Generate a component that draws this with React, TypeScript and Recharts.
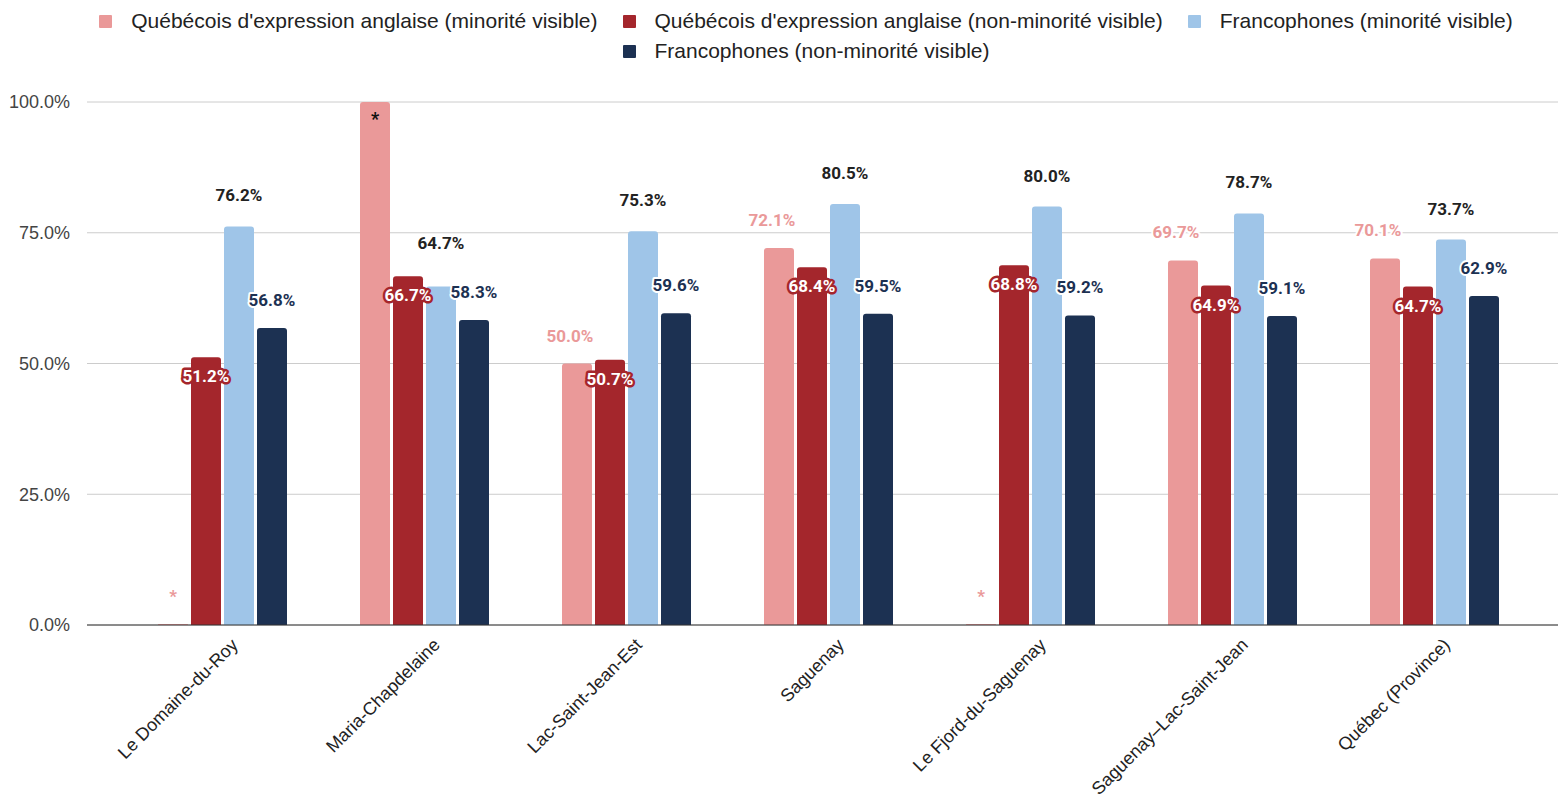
import {
  BarChart,
  Bar,
  XAxis,
  YAxis,
  CartesianGrid,
  Legend,
  LabelList,
} from "recharts";

const regions = [
  "Le Domaine-du-Roy",
  "Maria-Chapdelaine",
  "Lac-Saint-Jean-Est",
  "Saguenay",
  "Le Fjord-du-Saguenay",
  "Saguenay–Lac-Saint-Jean",
  "Québec (Province)",
];

// suppressed / unreliable values are flagged and shown as "*"
const angloMinority = [0, 100, 50.0, 72.1, 0, 69.7, 70.1];
const angloMinorityFlag = [true, true, false, false, true, false, false];
const angloNonMinority = [51.2, 66.7, 50.7, 68.4, 68.8, 64.9, 64.7];
const francoMinority = [76.2, 64.7, 75.3, 80.5, 80.0, 78.7, 73.7];
const francoNonMinority = [56.8, 58.3, 59.6, 59.5, 59.2, 59.1, 62.9];

const yTicks = [0, 25, 50, 75, 100];

const seriesNames = [
  "Québécois d'expression anglaise (minorité visible)",
  "Québécois d'expression anglaise (non-minorité visible)",
  "Francophones (minorité visible)",
  "Francophones (non-minorité visible)",
];
const colors = ["#ea9999", "#a4262c", "#9fc5e8", "#1c3152"];

const fmt = (v: number) => `${v.toFixed(1)}%`;

const data = regions.map((region, i) => ({
  region,
  am: angloMinority[i],
  amLabel: angloMinorityFlag[i] ? "*" : fmt(angloMinority[i]),
  anm: angloNonMinority[i],
  fm: francoMinority[i],
  fnm: francoNonMinority[i],
}));

const labelFont = "Roboto, 'Noto Sans', sans-serif";
const axisFont = "'Liberation Sans', Arial, sans-serif";

const CHART_W = 1558;
const CHART_H = 798;
const PLOT_TOP = 102;
const PLOT_BOTTOM = 625;

function PinkLabel(props: any) {
  const { x, y, width, value } = props;
  const cx = x + width / 2;
  const star = value === "*";
  if (star && y <= PLOT_TOP + 1) {
    return (
      <text x={cx} y={y + 16} textAnchor="middle" dominantBaseline="central" fill="#111" fontSize={18} fontWeight={700} fontFamily={labelFont}>
        *
      </text>
    );
  }
  return (
    <text
      x={star ? cx : cx - 7}
      y={y - 28}
      textAnchor="middle"
      dominantBaseline="central"
      fill="#ea9999"
      stroke="#fff"
      strokeWidth={4}
      paintOrder="stroke"
      strokeLinejoin="round"
      fontSize={17}
      fontWeight={700}
      fontFamily={labelFont}
    >
      {value}
    </text>
  );
}

function RedLabel(props: any) {
  const { x, y, width, value } = props;
  return (
    <text
      x={x + width / 2}
      y={y + 19}
      textAnchor="middle"
      dominantBaseline="central"
      fill="#fff"
      stroke="#a4262c"
      strokeWidth={5}
      paintOrder="stroke"
      strokeLinejoin="round"
      fontSize={17}
      fontWeight={700}
      fontFamily={labelFont}
    >
      {fmt(value)}
    </text>
  );
}

function makeBlueLabel(yPx: (v: number) => number) {
  return function BlueLabel(props: any) {
    const { x, y, width, value, index } = props;
    // push up when it would crowd the navy label next to it
    const navyY = yPx(francoNonMinority[index]) - 28;
    let ly = y - 31;
    if (navyY - ly < 45) ly = navyY - 49;
    return (
      <text
        x={x + width / 2}
        y={ly}
        textAnchor="middle"
        dominantBaseline="central"
        fill="#222"
        fontSize={17}
        fontWeight={700}
        fontFamily={labelFont}
      >
        {fmt(value)}
      </text>
    );
  };
}

function NavyLabel(props: any) {
  const { x, y, width, value } = props;
  return (
    <text
      x={x + width / 2}
      y={y - 28}
      textAnchor="middle"
      dominantBaseline="central"
      fill="#1c3152"
      stroke="#fff"
      strokeWidth={4}
      paintOrder="stroke"
      strokeLinejoin="round"
      fontSize={17}
      fontWeight={700}
      fontFamily={labelFont}
    >
      {fmt(value)}
    </text>
  );
}

function LegendBox() {
  return (
    <div
      style={{
        height: 97,
        width: 1460,
        marginLeft: 76,
        paddingTop: 1,
        boxSizing: "border-box",
        display: "flex",
        flexWrap: "wrap",
        justifyContent: "center",
        alignContent: "flex-start",
        fontFamily: axisFont,
        fontSize: 21,
        color: "#222",
      }}
    >
      {seriesNames.map((name, i) => (
        <div
          key={name}
          style={{
            display: "flex",
            alignItems: "center",
            height: 30,
            margin: "0 12.5px",
            whiteSpace: "nowrap",
          }}
        >
          <span
            style={{
              width: 13,
              height: 13,
              background: colors[i],
              borderRadius: 1,
              marginRight: 19,
              display: "inline-block",
            }}
          />
          <span>{name}</span>
        </div>
      ))}
    </div>
  );
}

export default function App() {
  const yPx = (v: number) =>
    PLOT_BOTTOM - (v / 100) * (PLOT_BOTTOM - PLOT_TOP);
  const BlueLabel = makeBlueLabel(yPx);
  return (
    <div style={{ position: "absolute", left: 0, top: 0, background: "#fff" }}>
      <BarChart
        width={CHART_W}
        height={CHART_H}
        data={data}
        margin={{ top: 5, right: 0, bottom: 0, left: 0 }}
        barGap={3}
        barSize={30}
      >
        <Legend verticalAlign="top" align="left" content={() => <LegendBox />} />
        <CartesianGrid vertical={false} stroke="#cccccc" />
        <XAxis
          dataKey="region"
          interval={0}
          height={173}
          padding={{ left: 34, right: 23 }}
          axisLine={{ stroke: "#333", strokeWidth: 1 }}
          tickLine={false}
          tick={{
            angle: -45,
            textAnchor: "end",
            fontSize: 18,
            fill: "#222",
            fontFamily: axisFont,
            dx: 8,
            dy: 4,
          }}
        />
        <YAxis
          width={87}
          domain={[0, 100]}
          ticks={yTicks}
          tickFormatter={fmt}
          axisLine={false}
          tickLine={false}
          tickSize={0}
          tickMargin={17}
          tick={{ fontSize: 18, fill: "#444", fontFamily: axisFont }}
        />
        <Bar dataKey="am" name={seriesNames[0]} fill={colors[0]} radius={[3, 3, 0, 0]} minPointSize={1} isAnimationActive={false}>
          <LabelList dataKey="amLabel" content={PinkLabel} />
        </Bar>
        <Bar dataKey="anm" name={seriesNames[1]} fill={colors[1]} radius={[3, 3, 0, 0]} isAnimationActive={false}>
          <LabelList dataKey="anm" content={RedLabel} />
        </Bar>
        <Bar dataKey="fm" name={seriesNames[2]} fill={colors[2]} radius={[3, 3, 0, 0]} isAnimationActive={false}>
          <LabelList dataKey="fm" content={BlueLabel} />
        </Bar>
        <Bar dataKey="fnm" name={seriesNames[3]} fill={colors[3]} radius={[3, 3, 0, 0]} isAnimationActive={false}>
          <LabelList dataKey="fnm" content={NavyLabel} />
        </Bar>
      </BarChart>
    </div>
  );
}
